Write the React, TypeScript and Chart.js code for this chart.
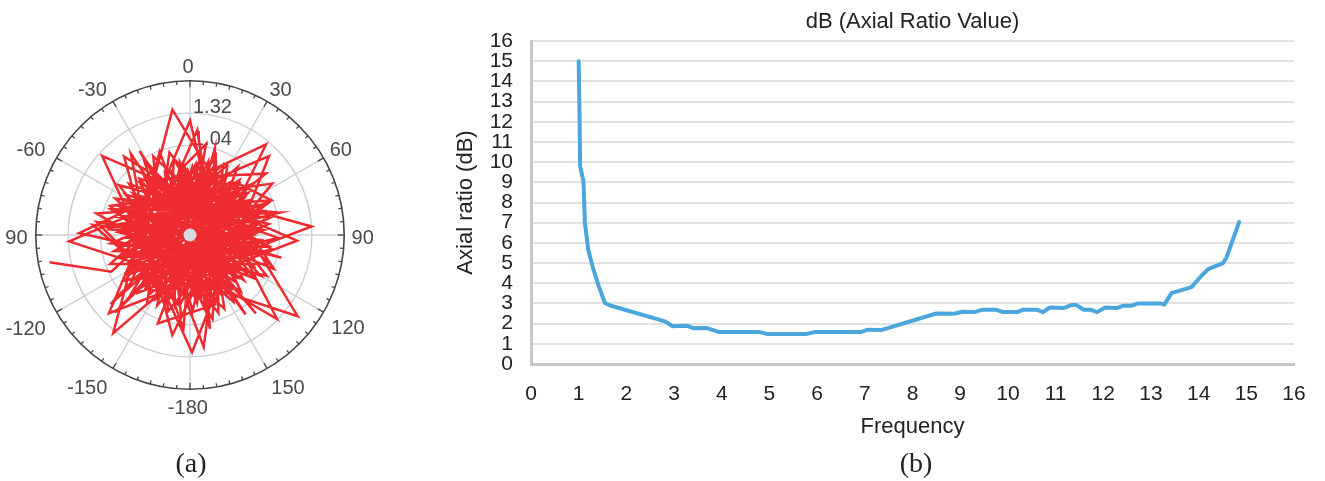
import React, { useEffect, useRef } from "react";
import { Chart, registerables } from "chart.js";

Chart.register(...registerables);

const frequency = [1, 1.02, 1.03, 1.1, 1.13, 1.2, 1.31, 1.41, 1.55, 1.66, 2.81, 2.97, 3.27, 3.41, 3.69, 3.95, 4.8, 4.94, 5.78, 5.95, 6.9, 7.07, 7.34, 8.5, 8.87, 9.05, 9.3, 9.47, 9.75, 9.9, 10.2, 10.32, 10.6, 10.74, 10.88, 11.16, 11.33, 11.44, 11.58, 11.73, 11.87, 12.04, 12.28, 12.43, 12.6, 12.74, 13.19, 13.28, 13.43, 13.85, 14.06, 14.2, 14.51, 14.58, 14.85];
const axialRatio = [15, 12, 9.8, 9.05, 7, 5.66, 4.67, 3.93, 3.02, 2.9, 2.11, 1.87, 1.9, 1.77, 1.78, 1.58, 1.58, 1.49, 1.49, 1.58, 1.58, 1.7, 1.68, 2.5, 2.49, 2.59, 2.57, 2.69, 2.69, 2.57, 2.57, 2.69, 2.69, 2.57, 2.8, 2.77, 2.92, 2.92, 2.69, 2.69, 2.57, 2.8, 2.77, 2.89, 2.89, 3, 3, 2.94, 3.51, 3.81, 4.37, 4.7, 5, 5.25, 7.03];

const polarAngles = [259, 245, 28, 173, 318, 86, 222, 5, 134, 283, 66, 218, 352, 127, 267, 45, 179, 312, 93, 226, 0, 147, 296, 75, 212, 346, 118, 271, 40, 190, 320, 100, 235, 20, 160, 305, 82, 232, 4, 155, 290, 58, 196, 335, 110, 250, 25, 165, 310, 92,
  240, 30, 178, 330, 125, 275, 60, 205, 355, 138, 288, 72, 225, 12, 168, 322, 106, 258, 42, 186, 340, 120, 280, 68, 214, 8, 152, 302, 86, 246, 35, 182, 328, 112, 264, 50, 200, 348, 130, 298, 78, 228, 18, 158, 314, 98, 252, 48, 192, 344,
  124, 278, 54, 210, 2, 146, 306, 88, 238, 22, 174, 326, 104, 262, 38, 198, 352, 136, 292, 62, 220, 14, 162, 316, 96, 254, 44, 188, 338, 116, 272, 70, 208, 358, 142, 300, 80, 242, 32, 176, 324, 108, 268, 56, 204, 350, 132, 286, 64, 216, 10, 170, 308, 90, 248, 26,
  206, 324, 150, 329, 145, 322, 140, 318, 51, 232, 229, 48, 224, 42, 67, 248, 340, 160, 200, 22, 16, 196, 184, 6, 168, 350, 10, 190, 278, 98, 112, 292, 104, 284, 76, 256, 276, 94, 274];
const polarRadii = [1.55, 0.94, 0.86, 1.22, 0.82, 1.32, 0.84, 0.78, 1.31, 1.04, 0.92, 1.35, 1.37, 1.46, 1.31, 1.21, 1.27, 1.28, 1.16, 1.22, 1.24, 0.86, 0.9, 0.95, 0.88, 0.92, 0.94, 1.2, 1.28, 1.1, 1.11, 0.9, 0.86, 0.82, 0.9, 0.94, 0.86, 0.8, 1.14, 0.88, 0.92, 1.05, 0.86, 0.94, 0.92, 0.92, 0.84, 0.94, 0.86, 0.96,
  0.78, 0.72, 0.82, 0.86, 0.78, 0.88, 0.76, 0.84, 0.76, 0.82, 0.9, 0.84, 0.9, 0.7, 0.86, 0.8, 0.74, 0.84, 0.8, 0.9, 0.78, 0.88, 0.7, 0.9, 0.76, 0.86, 0.74, 0.82, 0.8, 0.72, 0.9, 0.7, 0.92, 0.7, 0.86, 0.84, 0.8, 0.84, 0.76, 0.78, 0.88, 0.7, 0.9, 0.78, 0.72, 0.86, 0.78, 0.72, 0.78, 0.7,
  0.84, 0.8, 0.78, 0.72, 0.74, 0.8, 0.76, 0.72, 0.82, 0.76, 0.74, 0.74, 0.8, 0.72, 0.74, 0.72, 0.8, 0.7, 0.82, 0.7, 0.74, 0.82, 0.7, 0.78, 0.7, 0.74, 0.76, 0.76, 0.72, 0.76, 0.76, 0.74, 0.78, 0.7, 0.72, 0.72, 0.72, 0.7, 0.74, 0.66, 0.7, 0.68, 0.7, 0.7, 0.68, 0.68, 0.68, 0.74, 0.66, 0.7, 0.72, 0.68, 0.68, 0.68, 0.66, 0.68,
  0.78, 1.09, 0.74, 1.06, 1.05, 0.72, 1.11, 0.8, 1.06, 0.74, 1.14, 0.78, 1.17, 0.76, 0.96, 0.68, 0.96, 0.8, 1.02, 0.68, 0.98, 0.7, 1.02, 0.72, 1.04, 0.7, 1.0, 0.76, 1.02, 0.74, 0.98, 0.72, 1.02, 0.76, 1.0, 0.74, 1.06, 0.8, 0.9];

const spokeAngles = [0, 30, 60, 90, 120, 150, 180, 210, 240, 270, 300, 330];
const spokeLabels = ["0", "30", "60", "90", "120", "150", "-180", "-150", "-120", "90", "-60", "-30"];
const ringValues = [0.63, 0.97, 1.32];
const ringLabels = ["0", "1.04", "1.32"];

const FRAME_RADIUS = 1.67;
const SPOKE_LABEL_ANGLE = [359.3, 32, 60.6, 91, 120.7, 147.5, 180.7, 213.8, 240.2, 268.7, 298, 326];
const SPOKE_LABEL_RADIUS = [1.81, 1.85, 1.875, 1.87, 1.99, 1.975, 1.88, 2.0, 2.05, 1.88, 1.95, 1.89];
const TEXT_GREY = "#474a4e";
const GRID_GREY = "#ccd0d6";

const polarFrame = {
  id: "polarFrame",
  beforeDatasetsDraw(chart: any) {
    const { ctx, scales } = chart;
    const cx = scales.x.getPixelForValue(0);
    const cy = scales.y.getPixelForValue(0);
    const k = scales.x.getPixelForValue(1) - cx;
    const at = (deg: number, r: number) => {
      const t = (deg * Math.PI) / 180;
      return [cx + r * k * Math.sin(t), cy - r * k * Math.cos(t)];
    };
    ctx.save();
    ctx.strokeStyle = GRID_GREY;
    ctx.lineWidth = 1.4;
    ringValues.forEach((r) => {
      ctx.beginPath();
      ctx.arc(cx, cy, r * k, 0, Math.PI * 2);
      ctx.stroke();
    });
    spokeAngles.forEach((a) => {
      const [x, y] = at(a, FRAME_RADIUS);
      ctx.beginPath();
      ctx.moveTo(cx, cy);
      ctx.lineTo(x, y);
      ctx.stroke();
    });

    ctx.strokeStyle = "#444444";
    ctx.lineWidth = 1.6;
    ctx.beginPath();
    ctx.arc(cx, cy, FRAME_RADIUS * k, 0, Math.PI * 2);
    ctx.stroke();
    ctx.lineWidth = 1.3;
    for (let a = 0; a < 360; a += 5) {
      const inner = a % 30 === 0 ? FRAME_RADIUS - 0.07 : FRAME_RADIUS - 0.04;
      const [x0, y0] = at(a, inner);
      const [x1, y1] = at(a, FRAME_RADIUS);
      ctx.beginPath();
      ctx.moveTo(x0, y0);
      ctx.lineTo(x1, y1);
      ctx.stroke();
    }

    ctx.fillStyle = TEXT_GREY;
    ctx.font = "20px 'Liberation Sans'";
    ctx.textAlign = "center";
    ctx.textBaseline = "middle";
    spokeLabels.forEach((label, i) => {
      const [x, y] = at(SPOKE_LABEL_ANGLE[i], SPOKE_LABEL_RADIUS[i]);
      ctx.fillText(label, x, y);
    });
    ctx.textAlign = "left";
    ringLabels.forEach((label, i) => {
      const [, y] = at(0, ringValues[i] + 0.06);
      ctx.fillText(label, cx + 3, y);
    });
    ctx.restore();
  },
  afterDatasetsDraw(chart: any) {
    const { ctx, scales } = chart;
    ctx.save();
    ctx.fillStyle = "#d6d9de";
    ctx.beginPath();
    ctx.arc(scales.x.getPixelForValue(0), scales.y.getPixelForValue(0), 6.5, 0, Math.PI * 2);
    ctx.fill();
    ctx.restore();
  },
};

export default function App() {
  const polarRef = useRef<HTMLCanvasElement>(null);
  const lineRef = useRef<HTMLCanvasElement>(null);

  useEffect(() => {
    const polarPoints = polarAngles.map((a, i) => ({
      x: polarRadii[i] * Math.sin((a * Math.PI) / 180),
      y: polarRadii[i] * Math.cos((a * Math.PI) / 180),
    }));
    const polar = new Chart(polarRef.current as HTMLCanvasElement, {
      type: "scatter",
      data: {
        datasets: [
          {
            data: polarPoints,
            showLine: true,
            borderColor: "#ee2b30",
            borderWidth: 2.5,
            pointRadius: 0,
            tension: 0,
          },
        ],
      },
      options: {
        responsive: false,
        animation: false,
        layout: { padding: { left: 33, right: 33, top: 78, bottom: 89 } },
        plugins: { legend: { display: false }, tooltip: { enabled: false } },
        scales: {
          x: { display: false, min: -1.7, max: 1.7 },
          y: { display: false, min: -1.7, max: 1.7 },
        },
      },
      plugins: [polarFrame],
    } as any);

    const tickFont = { family: "'Liberation Sans'", size: 21 };
    const titleFont = { family: "'Liberation Sans'", size: 22, weight: "normal" as const };
    const line = new Chart(lineRef.current as HTMLCanvasElement, {
      type: "scatter",
      data: {
        datasets: [
          {
            data: frequency.map((f, i) => ({ x: f, y: axialRatio[i] })),
            showLine: true,
            borderColor: "#4aa6dc",
            borderWidth: 4,
            borderCapStyle: "round",
            borderJoinStyle: "round",
            pointRadius: 0,
            tension: 0,
          },
        ],
      },
      options: {
        responsive: false,
        animation: false,
        layout: { padding: { left: 0, right: 31, top: 0, bottom: 41 } },
        plugins: {
          legend: { display: false },
          tooltip: { enabled: false },
          title: {
            display: true,
            text: "dB (Axial Ratio Value)",
            fullSize: false,
            color: "#222222",
            font: titleFont,
            padding: { top: 8.6, bottom: 6 },
          },
        },
        scales: {
          x: {
            type: "linear",
            min: 0,
            max: 16,
            ticks: { stepSize: 1, color: "#222222", font: tickFont, padding: 18, maxRotation: 0, autoSkip: false },
            grid: { display: false, drawTicks: false },
            border: { color: "#c6c6c6", width: 3 },
            title: { display: true, text: "Frequency", color: "#222222", font: titleFont, padding: 0 },
            afterFit(scale: any) {
              scale.height = 76;
            },
          },
          y: {
            type: "linear",
            min: 0,
            max: 16,
            ticks: { stepSize: 1, color: "#222222", font: tickFont, padding: 18, autoSkip: false },
            grid: { color: "#e0e1e2", lineWidth: 2, drawTicks: false },
            border: { color: "#c6c6c6", width: 3 },
            title: { display: true, text: "Axial ratio (dB)", color: "#222222", font: titleFont, padding: 3 },
            afterFit(scale: any) {
              scale.width = 81;
            },
          },
        },
      },
    } as any);

    return () => {
      polar.destroy();
      line.destroy();
    };
  }, []);

  const caption = (left: number, text: string) => (
    <div
      style={{
        position: "absolute",
        left,
        top: 447,
        width: 60,
        textAlign: "center",
        fontFamily: "'Liberation Serif', serif",
        fontSize: 28,
        lineHeight: "32px",
        color: "#222222",
      }}
    >
      {text}
    </div>
  );

  return (
    <div style={{ position: "absolute", left: 0, top: 0, width: 1325, height: 481, background: "#ffffff", overflow: "hidden" }}>
      <canvas ref={polarRef} width={380} height={481} style={{ position: "absolute", left: 0, top: 0 }} />
      <canvas ref={lineRef} width={875} height={481} style={{ position: "absolute", left: 450, top: 0 }} />
      {caption(161, "(a)")}
      {caption(886, "(b)")}
    </div>
  );
}
